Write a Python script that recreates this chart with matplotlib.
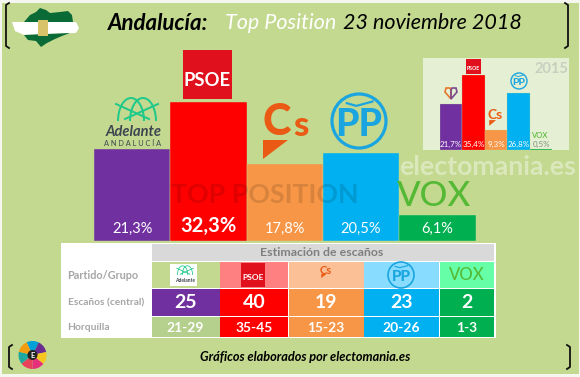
import matplotlib
matplotlib.use("Agg")
import matplotlib.pyplot as plt
from matplotlib.patches import Rectangle, Circle, Polygon, Arc, Wedge

plt.rcParams['font.family'] = ['Lato', 'DejaVu Sans']

parties = ['Adelante', 'PSOE', 'Cs', 'PP', 'VOX']
votes = [21.3, 32.3, 17.8, 20.5, 6.1]
vote_labels = ['21,3%', '32,3%', '17,8%', '20,5%', '6,1%']
votes_2015 = [21.7, 35.4, 9.3, 26.8, 0.5]
labels_2015 = ['21,7%', '35,4%', '9,3%', '26,8%', '0,5%']
seats = ['25', '40', '19', '23', '2']
ranges = ['21-29', '35-45', '15-23', '20-26', '1-3']
colors = ['#7030a0', '#ff0000', '#f79646', '#00b0f0', '#00b050']
logo_bg = ['#c3d98f', '#ff8080', '#fbc095', '#88dcff', '#66ffa8']
range_bg = ['#b5cf8c', '#ff0000', '#f79646', '#00b0f0', '#00b050']
col_edges = [(151.5, 219.5), (220, 288), (288.5, 363.5), (364, 439), (440, 494)]

BG = '#c3d98f'
W, H = 580, 377


def px_axes(fig, x0, y_top, x1, y_bot, z):
    return fig.add_axes([x0 / W, 1 - y_bot / H, (x1 - x0) / W, (y_bot - y_top) / H], zorder=z)


def logo_psoe(a, x0, y0, s, fs):
    a.add_patch(Rectangle((x0, y0), s, s, color='#e0101c', lw=0))
    a.text(x0 + s / 2, y0 + s * 0.62, 'PSOE', color='white', fontsize=fs, fontweight='bold',
           ha='center', va='center')


def logo_cs(a, x, y, fs, tri):
    a.text(x, y, 'Cs', color='#ea5a14', fontsize=fs, fontweight='bold', ha='center', va='center')
    a.add_patch(Polygon([(x - tri * 1.05, y + tri * 0.85), (x + tri * 0.1, y + tri * 0.85),
                         (x - tri * 1.05, y + tri * 1.8)], color='#ea5a14', lw=0))


def logo_pp(a, x, y, r, fs, lw):
    a.add_patch(Circle((x, y), r, fill=False, ec='#1aa5e0', lw=lw))
    a.plot([x - r * 0.45, x - r * 0.1, x + r * 0.5], [y - r * 0.66, y - r * 0.56, y - r * 0.72],
           color='#1aa5e0', lw=lw * 0.7)
    a.text(x, y + r * 0.14, 'PP', color='#1aa5e0', fontsize=fs, fontweight='black', ha='center', va='center')


def logo_vox(a, x, y, fs):
    a.text(x, y, 'VOX', color='#55b935', fontsize=fs, fontweight='medium', ha='center', va='center')


def logo_adelante(a, x, y, s):
    # y is the foot of the drawn arches, s their half width
    for dx in (-s * 0.3, s * 0.3):
        a.add_patch(Arc((x + dx, y), s * 1.3, s * 2.3, theta1=180, theta2=360, color='#1fc98a', lw=s / 14))
    a.plot([x - s * 1.05, x + s * 0.6], [y - s * 0.85, y - s * 0.1], color='#1fc98a', lw=s / 14)
    a.plot([x + s * 1.05, x - s * 0.6], [y - s * 0.85, y - s * 0.1], color='#1fc98a', lw=s / 14)


fig = plt.figure(figsize=(5.8, 3.77), dpi=100, facecolor='#f4f6ef')

# fondo, marco y cabecera
bg = px_axes(fig, 0, 0, W, H, 0)
bg.set_xlim(0, W)
bg.set_ylim(H, 0)
bg.axis('off')
bg.add_patch(Rectangle((2, 3), 577, 371, color=BG, lw=0))
bg.add_patch(Rectangle((423, 58), 146, 92, color='#e4efd3', lw=0))

# barras principales
ax = px_axes(fig, 94, 102, 475.5, 241, 1)
ax.bar(range(5), votes, width=1.0, color=colors, edgecolor=BG, linewidth=0.3)
ax.set_xlim(-0.5, 4.5)
ax.set_ylim(0, 32.3)
ax.axis('off')

# barras 2015
ins = px_axes(fig, 439.7, 74.7, 552.3, 150, 1)
ins.bar(range(5), votes_2015, width=1.0, color=colors, edgecolor=BG, linewidth=0.2)
ins.set_xlim(-0.5, 4.5)
ins.set_ylim(0, 35.4)
ins.axis('off')

# capa de textos y logos
top = px_axes(fig, 0, 0, W, H, 2)
top.set_xlim(0, W)
top.set_ylim(H, 0)
top.axis('off')
top.patch.set_alpha(0)

# corchetes
for x, sgn, y0, y1 in [(6, 1, 3, 48), (568, -1, 3, 48), (9, 1, 345, 369), (570, -1, 345, 369)]:
    top.plot([x + sgn * 3, x, x, x + sgn * 3], [y0, y0 + 2, y1 - 2, y1], color='#111111', lw=1.3)

top.text(108, 23, 'Andalucía:', fontsize=16, fontweight='bold', style='italic', color='black', va='center')
top.text(225, 23, 'Top Position', fontsize=15.5, style='italic', color='white', va='center')
top.text(343, 23, '23 noviembre 2018', fontsize=15.5, style='italic', color='black', va='center')

# mapa de Andalucia
top.add_patch(Polygon([(24, 22), (30, 15), (36, 12), (40, 8), (46, 10), (50, 13), (60, 12), (68, 11),
                       (72, 15), (73, 22)], color='#0b6b36', lw=0))
top.add_patch(Polygon([(12, 22), (76, 22), (79, 28), (76, 33), (24, 35), (15, 31)], color='white', lw=0))
top.add_patch(Polygon([(24, 35), (28, 40), (36, 41), (41, 47), (47, 43), (55, 39), (62, 36), (70, 33)],
                      color='#0b6b36', lw=0))
top.add_patch(Rectangle((38, 20), 10, 16, color='#d9c36a', lw=0))

# logos de las barras
logo_psoe(top, 183, 50, 49, 13.2)
logo_adelante(top, 137, 121, 20)
top.text(133.5, 132, 'Adelante', fontsize=10.5, fontweight='bold', style='italic', color='#3d4650', ha='center', va='center')
top.text(133, 144, 'A N D A L U C Í A', fontsize=5.3, color='#3d4650', ha='center', va='center')
top.text(277, 122, 'C', color='#ea5a14', fontsize=31, fontweight='black', ha='center', va='center')
top.text(301, 126, 's', color='#ea5a14', fontsize=25, fontweight='black', ha='center', va='center')
top.add_patch(Polygon([(263, 140), (288, 140), (263, 159)], color='#ea5a14', lw=0))
logo_pp(top, 359, 121, 27, 27, 2.3)
logo_vox(top, 434, 196, 25)

# valores de las barras
for i, lab in enumerate(vote_labels):
    big = parties[i] == 'PSOE'
    ax.text(i, 1.25 if not big else 1.2, lab, color='white', ha='center', va='bottom',
            fontsize=14.5 if big else 10.5, fontweight='bold' if big else 'normal')

top.text(264.5, 195, 'TOP POSITION', fontsize=19.3, fontweight='bold', color='black', alpha=0.12, ha='center', va='center')
top.text(488, 167, 'electomania.es', fontsize=19.2, fontweight='bold', color='white', alpha=0.4, ha='center', va='center')

# recuadro 2015
top.text(568, 69, '2015', fontsize=10.5, fontweight='bold', color='#c9cfc0', ha='right', va='center')
logo_psoe(top, 466, 59, 15, 3.8)
top.add_patch(Polygon([(451, 99), (445, 92), (446, 88), (450, 88), (451, 90)], fill=False, ec='#e8772e', lw=1.2))
top.add_patch(Polygon([(451, 99), (457, 92), (456, 88), (452, 88), (451, 90)], fill=False, ec='#7a4a8c', lw=1.2))
logo_cs(top, 495.5, 115, 10, 6)
logo_pp(top, 519, 81, 8, 7.5, 1)
logo_vox(top, 540, 135.5, 5.5)
for i, lab in enumerate(labels_2015):
    ins.text(i, 0.8, lab, color='#7f8f7f' if i == 4 else 'white', ha='center', va='bottom', fontsize=5.8)

# tabla de escanos
top.add_patch(Rectangle((61, 243), 434.5, 94.5, color='white', lw=0))
top.add_patch(Rectangle((151.5, 244), 342.5, 16.7, color='#d9d9d9', lw=0))
top.text(322, 252.7, 'Estimación de escaños', fontsize=8.9, fontweight='bold', color='#7f7f7f', ha='center', va='center')
top.text(67.5, 275.5, 'Partido/Grupo', fontsize=7.8, fontweight='bold', color='#a6a6a6', va='center')
top.text(67.5, 303, 'Escaños (central)', fontsize=7.3, fontweight='bold', color='#a6a6a6', va='center')
top.text(67.5, 327.5, 'Horquilla', fontsize=7.4, fontweight='bold', color='#a6a6a6', va='center')
for i, (x0, x1) in enumerate(col_edges):
    cx = (x0 + x1) / 2
    top.add_patch(Rectangle((x0, 261.7), x1 - x0, 26.3, color=logo_bg[i], lw=0))
    top.add_patch(Rectangle((x0, 289), x1 - x0, 27, color=colors[i], lw=0))
    top.add_patch(Rectangle((x0, 317), x1 - x0, 19.7, color=range_bg[i], lw=0))
    top.text(cx, 303, seats[i], color='white', fontsize=14, fontweight='bold', ha='center', va='center')
    top.text(cx, 327.5, ranges[i], color='white', fontsize=10, fontweight='bold', ha='center', va='center')

top.add_patch(Rectangle((170, 264), 27, 22, color='white', lw=0))
logo_adelante(top, 185, 275, 8)
top.text(185, 281, 'Adelante', fontsize=3.6, fontweight='bold', color='#3d4650', ha='center', va='center')
logo_psoe(top, 241, 263, 24, 6)
logo_cs(top, 326, 270, 8, 4.5)
logo_pp(top, 401, 275, 13, 11, 1.2)
logo_vox(top, 467, 275.5, 12)

# pie
top.text(200, 357, 'Gráficos elaborados por electomania.es', fontsize=9.2, fontweight='bold', style='italic',
         color='black', va='center')
petal_cols = ['#00a0d8', '#6a2c91', '#f7c520', '#e5317b', '#e8425a', '#1fa8a0', '#f39c12']
for k, col in enumerate(petal_cols):
    top.add_patch(Wedge((32.5, 355), 14, k * 360 / 7 - 115, (k + 1) * 360 / 7 - 115, color=col, lw=0))
top.add_patch(Circle((32.5, 355), 5, color='#222222', lw=0))
top.text(32.5, 355, 'E', color='white', fontsize=5.5, fontweight='bold', ha='center', va='center')

fig.savefig('out.png', dpi=100)
